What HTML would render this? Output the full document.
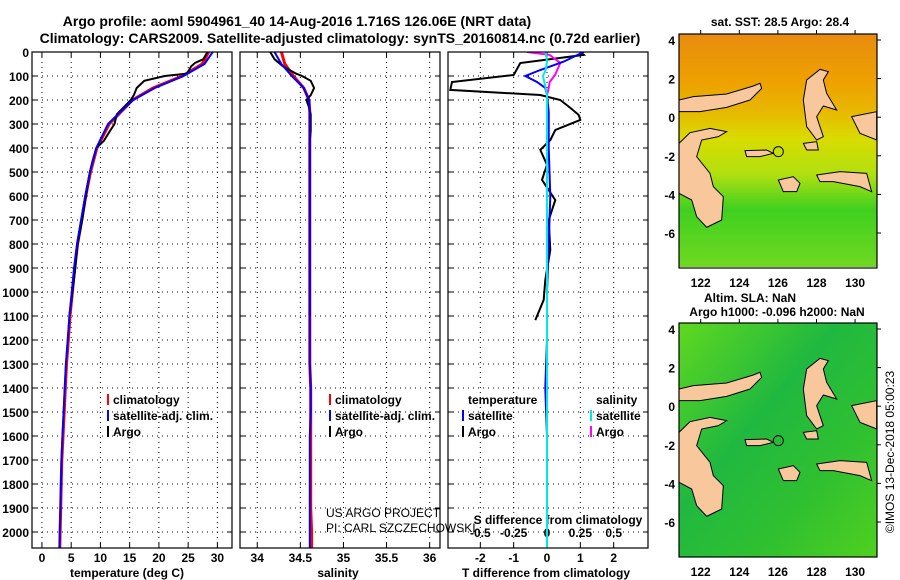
<!DOCTYPE html>
<html><head><meta charset="utf-8">
<style>
html,body{margin:0;padding:0;background:#fff;}
svg{display:block;font-family:"Liberation Sans",Arial,sans-serif;font-weight:bold;}
</style></head>
<body>
<svg id="chart" width="900" height="580" viewBox="0 0 900 580" xmlns="http://www.w3.org/2000/svg">
<defs>
<linearGradient id="sstGrad" x1="0" y1="0" x2="0" y2="1">
<stop offset="0" stop-color="#e88c10"/><stop offset="0.2" stop-color="#eea000"/><stop offset="0.33" stop-color="#e8b800"/>
<stop offset="0.45" stop-color="#d8dc00"/><stop offset="0.6" stop-color="#b0e010"/><stop offset="0.75" stop-color="#40d020"/><stop offset="1" stop-color="#70d820"/>
</linearGradient>
<linearGradient id="slaGrad" x1="0" y1="0" x2="1" y2="1">
<stop offset="0" stop-color="#60d820"/><stop offset="0.4" stop-color="#20b840"/><stop offset="0.7" stop-color="#30c030"/><stop offset="1" stop-color="#50d020"/>
</linearGradient>
<clipPath id="mapClip1"><rect x="679" y="34" width="198" height="233"/></clipPath>
<clipPath id="mapClip2"><rect x="679" y="323" width="198" height="234"/></clipPath>
<clipPath id="p1c"><rect x="32" y="52" width="200" height="496"/></clipPath>
<clipPath id="p2c"><rect x="240" y="52" width="200" height="496"/></clipPath>
<clipPath id="p3c"><rect x="448" y="52" width="200" height="496"/></clipPath>
</defs>
<text x="297" y="26" font-size="14" text-anchor="middle">Argo profile: aoml 5904961_40 14-Aug-2016 1.716S 126.06E (NRT data)</text>
<text x="340" y="43" font-size="14" text-anchor="middle">Climatology: CARS2009. Satellite-adjusted climatology: synTS_20160814.nc (0.72d earlier)</text>
<g id="panels"></g>
<g id="maps"></g>
</svg>
<script>
// ---------- data ----------
const depthClim = [0,50,100,150,200,250,300,400,500,600,700,800,900,1000,1100,1200,1300,1400,1500,1600,1700,1800,1900,2000,2066];
const tempClim = [28.5,27.4,24,19,15.5,13.5,11.5,9.4,8.3,7.5,6.8,6.1,5.6,5.2,4.8,4.5,4.2,4.0,3.8,3.6,3.4,3.3,3.2,3.1,3.05];
const tempSat  = [29.2,27.8,24.2,19.3,15.6,13.4,11.3,9.3,8.2,7.4,6.7,6.0,5.5,5.1,4.7,4.4,4.1,3.9,3.7,3.5,3.35,3.25,3.15,3.05,3.0];
const salClim  = [34.28,34.32,34.42,34.54,34.6,34.61,34.61,34.61,34.61,34.61,34.61,34.61,34.61,34.61,34.61,34.61,34.61,34.62,34.62,34.62,34.62,34.62,34.62,34.63,34.63];
const salSat   = [34.2,34.28,34.4,34.54,34.6,34.61,34.61,34.61,34.61,34.61,34.61,34.61,34.61,34.61,34.61,34.61,34.61,34.62,34.62,34.61,34.61,34.61,34.61,34.61,34.61];
const depthArgo = [0,30,45,60,90,100,120,150,180,200,230,260,300,330,370,400,450,500,600,700,800,900,1000,1100];
const tempArgo  = [28.3,27.6,26.2,25.5,24.8,21,17.5,16.2,15.7,15.2,14,12.8,12.4,11.6,10.6,9.3,8.7,8.2,7.5,6.9,6.1,5.7,5.2,4.7];
const salArgo   = [34.15,34.2,34.25,34.3,34.45,34.52,34.62,34.66,34.62,34.57,34.6,34.62,34.62,34.62,34.61,34.61,34.61,34.61,34.61,34.61,34.61,34.61,34.61,34.61];
const depthDiff = [0,12,46,96,125,158,179,200,233,262,283,325,367,408,470,533,617,700,825,950,1033,1117];
const tDiffArgo = [1.0,1.1,-0.8,-1.0,-2.85,-2.9,-0.2,0.4,0.7,0.95,1.0,0.25,0.1,-0.2,0.0,-0.15,0.25,0.05,0.1,-0.05,-0.1,-0.35];
const depthSat = [0,40,75,100,125,150,180,250,400,600,800,1000,1200,1400,1600,1800,2066];
const tDiffSat = [1.1,0.5,-0.2,-0.65,-0.3,-0.05,0.0,0.05,0.05,0.1,0.05,0.0,0.0,-0.05,0.0,0.0,0.0];
const sDiffSat = [-0.01,0.0,-0.01,-0.03,-0.02,-0.01,0.0,0.0,0.0,0.0,0.0,0.0,0.0,0.0,0.0,0.0,0.0];
const sDiffArgo = [-0.15,0.02,0.1,0.06,0.02,0.01,0.0,0.0,0.0,0.0,0.0,0.0,0.0,0.0,0.0,0.0,0.0,0.0,0.0,0.0,0.0,0.0];
const depthTicks = [0,100,200,300,400,500,600,700,800,900,1000,1100,1200,1300,1400,1500,1600,1700,1800,1900,2000];
const tempTicks = [0,5,10,15,20,25,30];
const salTicks = ["34","34.5","35","35.5","36"];
const tdTicks = ["-2","-1","0","1","2"];
const sdTicks = ["-0.5","-0.25","0","0.25","0.5"];
const latTicks = [4,2,0,-2,-4,-6];
const lonTicks = [122,124,126,128,130];

// ---------- helpers ----------
const NS="http://www.w3.org/2000/svg";
function mk(tag,attrs,parent){const e=document.createElementNS(NS,tag);for(const k in attrs)e.setAttribute(k,attrs[k]);parent.appendChild(e);return e;}
const panels=document.getElementById('panels');
const TOP=52,BOT=548;
const yD=d=>TOP+d*0.24;
function panel(x0,xmin,xmax,clip,name){
  const w=200;const sx=v=>x0+(v-xmin)/(xmax-xmin)*w;
  const g=mk('g',{},panels);
  
  
  return {g,sx,x0,w,clip};
}
function frame(p,xticks,xlabels){
  const g=p.g;
  depthTicks.forEach(d=>{const y=yD(d);
    mk('line',{x1:p.x0,x2:p.x0+p.w,y1:y,y2:y,stroke:'#000','stroke-width':1,'stroke-dasharray':'1,4'},g);
    mk('line',{x1:p.x0,x2:p.x0+5,y1:y,y2:y,stroke:'#000'},g);
    mk('line',{x1:p.x0+p.w-5,x2:p.x0+p.w,y1:y,y2:y,stroke:'#000'},g);});
  xticks.forEach((v,i)=>{const x=p.sx(v);
    mk('line',{x1:x,x2:x,y1:TOP,y2:BOT,stroke:'#000','stroke-dasharray':'1,4'},g);
    mk('line',{x1:x,x2:x,y1:BOT-5,y2:BOT,stroke:'#000'},g);
    mk('line',{x1:x,x2:x,y1:TOP,y2:TOP+5,stroke:'#000'},g);
    if(xlabels){const t=mk('text',{x:x,y:562,'font-size':12,'text-anchor':'middle'},g);t.textContent=xlabels[i];
      
      }
  });
}
function border(p){const r=mk('rect',{x:p.x0,y:TOP,width:p.w,height:BOT-TOP,fill:'none',stroke:'#000','stroke-width':1.2},p.g);}
function line(p,xs,ds,color,name,wd){
  const pts=xs.map((v,i)=>p.sx(v).toFixed(1)+','+yD(ds[i]).toFixed(1)).join(' ');
  const e=mk('polyline',{points:pts,fill:'none',stroke:color,'stroke-width':wd||2,'clip-path':'url(#'+p.clip+')'},p.g);
  
  
}
function legend(g,x,y,color,label){
  if(color) mk('line',{x1:x,x2:x,y1:y-6,y2:y+5,stroke:color,'stroke-width':2},g);
  const t=mk('text',{x:x+5,y:y+4,'font-size':12},g);t.textContent=label;
  
  
}
function label(g,x,y,txt,name,anchor,size){const t=mk('text',{x:x,y:y,'font-size':size||12,'text-anchor':anchor||'middle'},g);t.textContent=txt;
  
  return t;}

// Panel 1: temperature
const p1=panel(32,-1.7,32.5,'p1c','temperature-panel');
frame(p1,tempTicks,tempTicks.map(String));
depthTicks.forEach(d=>label(p1.g,29,yD(d)+5,String(d),'y-tick-label','end'));
line(p1,tempClim,depthClim,'#ff0000','climatology-temp-line',3);
line(p1,tempArgo,depthArgo,'#000','argo-temp-line',2);
line(p1,tempSat,depthClim,'#0000ff','satellite-temp-line',2);
border(p1);
label(p1.g,127,577,'temperature (deg C)','x-axis-title');
legend(p1.g,108,400,'#ff0000','climatology');
legend(p1.g,108,416,'#0000ff','satellite-adj. clim.');
legend(p1.g,108,432,'#000','Argo');

// Panel 2: salinity
const p2=panel(240,33.8,36.12,'p2c','salinity-panel');
frame(p2,salTicks.map(Number),salTicks);
line(p2,salClim,depthClim,'#ff0000','climatology-sal-line',3);
line(p2,salArgo,depthArgo,'#000','argo-sal-line',2);
line(p2,salSat,depthClim,'#0000ff','satellite-sal-line',2);
border(p2);
label(p2.g,338,577,'salinity','x-axis-title');
legend(p2.g,330,400,'#ff0000','climatology');
legend(p2.g,330,416,'#0000ff','satellite-adj. clim.');
legend(p2.g,330,432,'#000','Argo');
label(p2.g,326,517,'US ARGO PROJECT','credit-project','start',12).setAttribute('font-weight','normal');
label(p2.g,326,532,'PI: CARL SZCZECHOWSKI','credit-pi','start',12).setAttribute('font-weight','normal');

// Panel 3: differences
const p3=panel(448,-2.97,3.03,'p3c','difference-panel');
frame(p3,tdTicks.map(Number),tdTicks);
sdTicks.forEach(s=>{const x=p3.sx(Number(s)*4);label(p3.g,x,537,s,'s-diff-tick-label');});
label(p3.g,558,524,'S difference from climatology','s-diff-axis-title');
line(p3,tDiffArgo,depthDiff,'#000','argo-temp-diff-line',2);
line(p3,sDiffArgo.map(v=>v*4),depthDiff,'#ff00ff','argo-sal-diff-line',2);
line(p3,tDiffSat,depthSat,'#0000ff','satellite-temp-diff-line',2);
line(p3,sDiffSat.map(v=>v*4),depthSat,'#00e8e8','satellite-sal-diff-line',2);
border(p3);
label(p3.g,546,577,'T difference from climatology','x-axis-title');
legend(p3.g,463,400,null,'temperature');
legend(p3.g,463,416,'#0000ff','satellite');
legend(p3.g,463,432,'#000','Argo');
legend(p3.g,591,400,null,'salinity');
legend(p3.g,591,416,'#00e8e8','satellite');
legend(p3.g,591,432,'#ff00ff','Argo');

// ---------- maps ----------
const maps=document.getElementById('maps');
const land=[
 "57,300 100,290 200,282 280,258 300,250 305,265 270,300 200,322 120,335 57,335",
 "57,430 90,398 150,385 200,395 175,410 125,420 110,470 150,520 160,560 190,590 185,660 140,682 110,650 95,600 57,580",
 "255,452 320,450 340,460 300,470 260,470",
 "355,540 400,530 420,550 410,575 370,575",
 "470,525 540,515 620,520 635,575 600,560 520,545 480,545",
 "440,240 480,208 505,215 490,240 500,280 530,330 490,318 470,350 490,410 470,420 440,380 430,300",
 "430,430 470,425 475,450 440,450",
 "575,350 650,335 650,420 600,400"
];
function map(yoff,fill,clip,name,top){
  const g=mk('g',{'clip-path':'url(#'+clip+')'},maps);
  
  
  mk('rect',{x:679,y:top,width:198,height:234,fill:fill},g);
  const gl=mk('g',{transform:'translate(660,'+yoff+') scale(0.33333)'},g);
  land.forEach(p=>mk('polygon',{points:p,fill:'#f8c89c',stroke:'#000','stroke-width':3},gl));
  mk('circle',{cx:355,cy:455,r:15,fill:'none',stroke:'#000','stroke-width':3},gl);
  mk('rect',{x:679,y:top,width:198,height:234,fill:'none',stroke:'#000','stroke-width':1.2},maps);
  const latY=l=>top+6+(4-l)*19.3;
  latTicks.forEach(l=>{const y=latY(l);
    mk('line',{x1:877,x2:881,y1:y,y2:y,stroke:'#000'},maps);
    label(maps,675,y+5,String(l),'lat-tick-label','end');});
  lonTicks.forEach(l=>{const x=700.7+(l-122)*19.3;
    mk('line',{x1:x,x2:x,y1:top-4,y2:top,stroke:'#000'},maps);
    label(maps,x,top+253,String(l),'lon-tick-label');});
}
map(0,'url(#sstGrad)','mapClip1','sst-map',34);
map(289,'url(#slaGrad)','mapClip2','sla-map',323);
label(maps,780,26,'sat. SST: 28.5 Argo: 28.4','sst-map-title');
label(maps,750,302,'Altim. SLA: NaN','sla-map-title');
label(maps,777,316,'Argo h1000: -0.096 h2000: NaN','sla-map-subtitle');
const c=label(maps,0,0,'©IMOS 13-Dec-2018 05:00:23','imos-credit','middle',12);
c.setAttribute('font-weight','normal');
c.setAttribute('transform','translate(894,452) rotate(-90)');
</script>
</body></html>
